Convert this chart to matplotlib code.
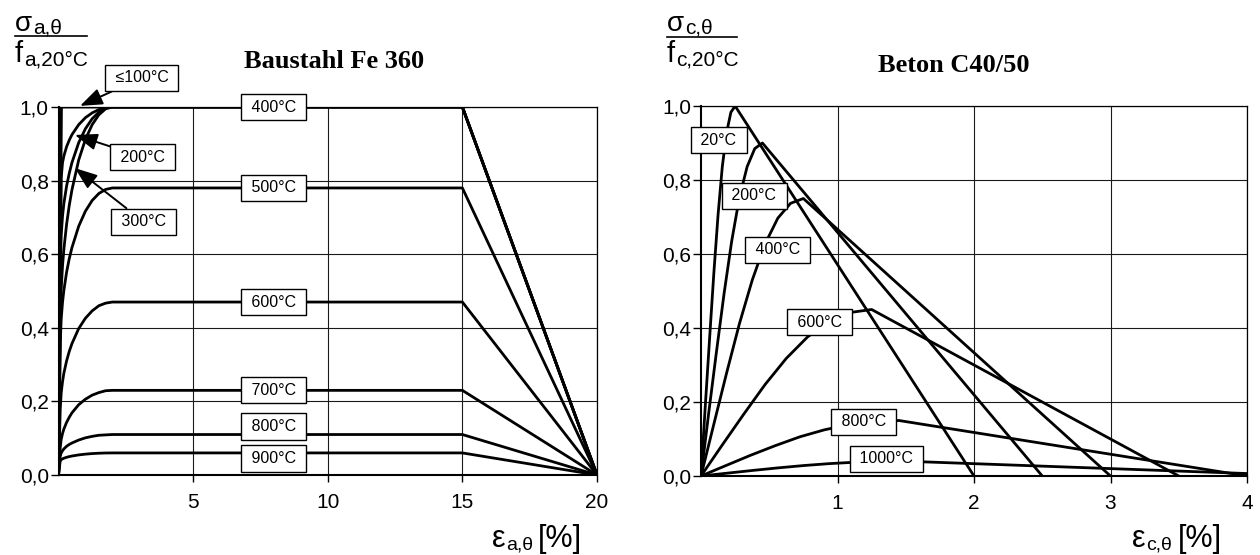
import matplotlib.pyplot as plt

# =====================================
# 1. Daten
# =====================================
W, H = 1260, 555

y_ticks = [0.0, 0.2, 0.4, 0.6, 0.8, 1.0]
y_tick_labels = ["0,0", "0,2", "0,4", "0,6", "0,8", "1,0"]
steel_xticks = [5, 10, 15, 20]
steel_xtick_labels = ["5", "10", "15", "20"]
conc_xticks = [1, 2, 3, 4]
conc_xtick_labels = ["1", "2", "3", "4"]

# Baustahl Fe 360: Dehnung [%] / bezogene Spannung
steel_100_x = [0, 0.11, 15, 20]
steel_100_y = [0, 1.0, 1.0, 0]
steel_200_x = [0, 0.10, 0.15, 0.2, 0.3, 0.4, 0.5, 0.75, 1.0, 1.25, 1.5, 1.75, 2.0, 15, 20]
steel_200_y = [0, 0.807, 0.849, 0.867, 0.892, 0.910, 0.925, 0.952, 0.971, 0.984, 0.993, 0.998, 1.0, 1.0, 0]
steel_300_x = [0, 0.086, 0.1, 0.15, 0.2, 0.3, 0.4, 0.5, 0.75, 1.0, 1.25, 1.5, 1.75, 2.0, 15, 20]
steel_300_y = [0, 0.613, 0.651, 0.704, 0.738, 0.785, 0.820, 0.849, 0.903, 0.941, 0.968, 0.986, 0.997, 1.0, 1.0, 0]
steel_400_x = [0, 0.067, 0.1, 0.15, 0.2, 0.3, 0.4, 0.5, 0.75, 1.0, 1.25, 1.5, 1.75, 2.0, 15, 20]
steel_400_y = [0, 0.420, 0.505, 0.569, 0.614, 0.681, 0.733, 0.775, 0.856, 0.912, 0.952, 0.979, 0.995, 1.0, 1.0, 0]
steel_500_x = [0, 0.067, 0.1, 0.15, 0.2, 0.3, 0.4, 0.5, 0.75, 1.0, 1.25, 1.5, 1.75, 2.0, 15, 20]
steel_500_y = [0, 0.360, 0.424, 0.470, 0.502, 0.551, 0.588, 0.618, 0.676, 0.717, 0.746, 0.765, 0.776, 0.78, 0.78, 0]
steel_600_x = [0, 0.065, 0.1, 0.15, 0.2, 0.3, 0.4, 0.5, 0.75, 1.0, 1.25, 1.5, 1.75, 2.0, 15, 20]
steel_600_y = [0, 0.180, 0.223, 0.254, 0.277, 0.310, 0.336, 0.357, 0.398, 0.426, 0.446, 0.460, 0.467, 0.47, 0.47, 0]
steel_700_x = [0, 0.065, 0.1, 0.15, 0.2, 0.3, 0.4, 0.5, 0.75, 1.0, 1.25, 1.5, 1.75, 2.0, 15, 20]
steel_700_y = [0, 0.075, 0.097, 0.113, 0.125, 0.143, 0.157, 0.169, 0.191, 0.206, 0.217, 0.224, 0.229, 0.23, 0.23, 0]
steel_800_x = [0, 0.062, 0.1, 0.15, 0.2, 0.3, 0.4, 0.5, 0.75, 1.0, 1.25, 1.5, 1.75, 2.0, 15, 20]
steel_800_y = [0, 0.050, 0.060, 0.066, 0.071, 0.078, 0.083, 0.087, 0.095, 0.101, 0.105, 0.108, 0.109, 0.11, 0.11, 0]
steel_900_x = [0, 0.062, 0.1, 0.15, 0.2, 0.3, 0.4, 0.5, 0.75, 1.0, 1.25, 1.5, 1.75, 2.0, 15, 20]
steel_900_y = [0, 0.0375, 0.0416, 0.0439, 0.0456, 0.0481, 0.0500, 0.0516, 0.0546, 0.0567, 0.0582, 0.0592, 0.0598, 0.06, 0.06, 0]

# Beton C40/50
conc_20_x = [0, 0.031, 0.063, 0.094, 0.125, 0.156, 0.188, 0.219, 0.25, 2.0]
conc_20_y = [0, 0.187, 0.372, 0.548, 0.706, 0.836, 0.929, 0.983, 1.0, 0]
conc_200_x = [0, 0.056, 0.113, 0.169, 0.225, 0.281, 0.338, 0.394, 0.45, 2.5]
conc_200_y = [0, 0.169, 0.335, 0.493, 0.635, 0.752, 0.836, 0.885, 0.9, 0]
conc_400_x = [0, 0.094, 0.188, 0.281, 0.375, 0.469, 0.563, 0.656, 0.75, 3.0]
conc_400_y = [0, 0.140, 0.279, 0.411, 0.529, 0.627, 0.697, 0.737, 0.75, 0]
conc_600_x = [0, 0.156, 0.313, 0.469, 0.625, 0.781, 0.938, 1.094, 1.25, 3.5]
conc_600_y = [0, 0.084, 0.167, 0.247, 0.318, 0.376, 0.418, 0.442, 0.45, 0]
conc_800_x = [0, 0.181, 0.363, 0.544, 0.725, 0.906, 1.088, 1.269, 1.45, 4.0]
conc_800_y = [0, 0.028, 0.056, 0.082, 0.106, 0.125, 0.139, 0.147, 0.15, 0]
conc_1000_x = [0, 0.188, 0.375, 0.563, 0.75, 0.938, 1.125, 1.313, 1.5, 4.5]
conc_1000_y = [0, 0.0075, 0.0149, 0.0219, 0.0282, 0.0334, 0.0372, 0.0393, 0.04, 0]

steel_labels = ["400°C", "500°C", "600°C", "700°C", "800°C", "900°C"]
conc_labels = ["20°C", "200°C", "400°C", "600°C", "800°C", "1000°C"]

# =====================================
# 2. Figur
# =====================================
plt.rcParams["font.family"] = ["Liberation Sans", "DejaVu Sans"]
fig = plt.figure(figsize=(W / 100, H / 100), dpi=100)

ax1 = fig.add_axes([58.5 / W, (H - 475) / H, (597 - 58.5) / W, 368 / H])
ax2 = fig.add_axes([701 / W, (H - 476) / H, 546 / W, 370 / H])

LW = 2.0


def style_axes(ax, xmax, xticks, xlabels):
    ax.set_xlim(0, xmax)
    ax.set_ylim(0, 1)
    ax.set_xticks(xticks)
    ax.set_xticklabels(xlabels)
    ax.set_yticks(y_ticks)
    ax.set_yticklabels(y_tick_labels)
    ax.grid(True, color="#1a1a1a", lw=0.8)
    ax.set_axisbelow(True)
    for s in ax.spines.values():
        s.set_linewidth(0.9)
    ax.spines["left"].set_linewidth(1.5)
    ax.spines["bottom"].set_linewidth(1.5)
    ax.tick_params(axis="x", direction="out", length=5, width=1, labelsize=15, pad=8)
    ax.tick_params(axis="y", direction="out", length=6, width=1, labelsize=15, pad=1)


style_axes(ax1, 20, steel_xticks, steel_xtick_labels)
style_axes(ax2, 4, conc_xticks, conc_xtick_labels)

for xs, ys in [(steel_100_x, steel_100_y), (steel_200_x, steel_200_y),
               (steel_300_x, steel_300_y), (steel_400_x, steel_400_y),
               (steel_500_x, steel_500_y), (steel_600_x, steel_600_y),
               (steel_700_x, steel_700_y), (steel_800_x, steel_800_y),
               (steel_900_x, steel_900_y)]:
    ax1.plot(xs, ys, color="black", lw=LW, solid_joinstyle="round")

for xs, ys in [(conc_20_x, conc_20_y), (conc_200_x, conc_200_y),
               (conc_400_x, conc_400_y), (conc_600_x, conc_600_y),
               (conc_800_x, conc_800_y), (conc_1000_x, conc_1000_y)]:
    ax2.plot(xs, ys, color="black", lw=LW, solid_joinstyle="round")

# -------- Beschriftungskästen --------
BOX = dict(boxstyle="square,pad=0.35", fc="white", ec="black", lw=1)


def box(ax, text, xy):
    ax.text(xy[0], xy[1], " " + text + " ", fontsize=11.5, ha="center", va="center",
            bbox=BOX, zorder=6, clip_on=False)


def arrow_box(ax, text, tip, pos):
    ax.annotate(" " + text + " ", xy=tip, xytext=pos, fontsize=11.5,
                ha="center", va="center", bbox=BOX, zorder=6, annotation_clip=False,
                arrowprops=dict(arrowstyle="-|>,head_length=0.8,head_width=0.3",
                                color="black", lw=1.4, shrinkA=0, shrinkB=0,
                                mutation_scale=17))


steel_label_pos = [(8.0, 1.0), (8.0, 0.78), (8.0, 0.47), (8.0, 0.23), (8.0, 0.132), (8.0, 0.045)]
for t, p in zip(steel_labels, steel_label_pos):
    box(ax1, t, p)

arrow_box(ax1, "≤100°C", (0.8, 1.003), (3.09, 1.079))
arrow_box(ax1, "200°C", (0.61, 0.924), (3.13, 0.864))
arrow_box(ax1, "300°C", (0.61, 0.834), (3.17, 0.688))

conc_label_pos = [(0.13, 0.908), (0.39, 0.757), (0.56, 0.611), (0.87, 0.416), (1.19, 0.146), (1.36, 0.046)]
for t, p in zip(conc_labels, conc_label_pos):
    box(ax2, t, p)


# -------- Titel und Achsenbeschriftungen (Pixelkoordinaten) --------
def ftext(x, y, s, size, **kw):
    fig.text(x / W, 1 - y / H, s, fontsize=size, va="baseline", ha="left", **kw)


def hline(x0, x1, y):
    fig.add_artist(plt.Line2D([x0 / W, x1 / W], [1 - y / H, 1 - y / H],
                              color="black", lw=1.2, transform=fig.transFigure))


fig.text(334 / W, 1 - 68 / H, "Baustahl Fe 360", family="Liberation Serif",
         weight="bold", fontsize=19, ha="center", va="baseline")
fig.text(954 / W, 1 - 72 / H, "Beton C40/50", family="Liberation Serif",
         weight="bold", fontsize=19, ha="center", va="baseline")

# y-Achse links
ftext(15, 31, "σ", 20)
ftext(33, 34, "a,θ", 15)
hline(15, 87, 36)
ftext(15, 62, "f", 21)
ftext(24, 66, "a,20°C", 15)

# y-Achse rechts
ftext(667, 31, "σ", 20)
ftext(685, 34, "c,θ", 15)
hline(667, 737, 37)
ftext(667, 62, "f", 21)
ftext(676, 66, "c,20°C", 15)

# x-Achsen
ftext(492, 547, "ε", 22)
ftext(506, 550, "a,θ", 14)
ftext(538, 547, "[%]", 22)

ftext(1132, 547, "ε", 22)
ftext(1146, 550, "c,θ", 14)
ftext(1178, 547, "[%]", 22)

fig.savefig("out.png", dpi=100)
plt.close()
